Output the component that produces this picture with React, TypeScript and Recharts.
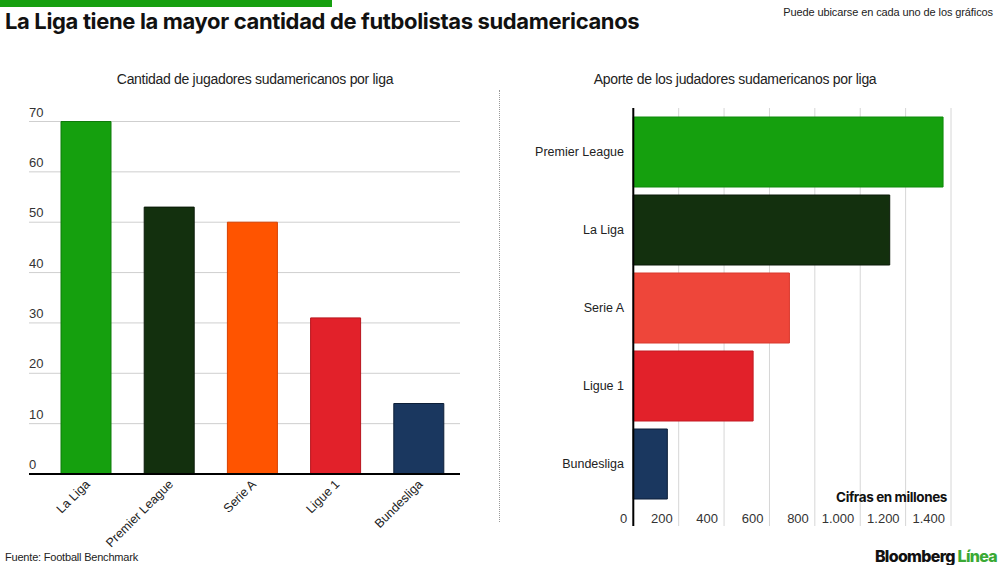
import React from 'react';
import { BarChart, Bar, XAxis, YAxis, CartesianGrid, Cell } from 'recharts';

const leftLeagues = ['La Liga', 'Premier League', 'Serie A', 'Ligue 1', 'Bundesliga'];
const leftPlayers = [70, 53, 50, 31, 14];
const leftColors = ['#15a00e', '#13300e', '#ff5400', '#e2212a', '#1a375f'];
const leftStrokes = ['#0f7a0a', '#0a1a08', '#d84000', '#b8151d', '#0d1f38'];
const leftTicks = [0, 10, 20, 30, 40, 50, 60, 70];

const rightLeagues = ['Premier League', 'La Liga', 'Serie A', 'Ligue 1', 'Bundesliga'];
const rightValues = [1365, 1130, 688, 528, 150];
const rightColors = ['#15a00e', '#13300e', '#ee463a', '#e2212a', '#1a375f'];
const rightStrokes = ['#0f8a0a', '#0a1a08', '#d9392d', '#c41a22', '#0d1f38'];
const rightTicks = [0, 200, 400, 600, 800, 1000, 1200, 1400];
const rightTickLabels = ['0', '200', '400', '600', '800', '1.000', '1.200', '1.400'];

const leftData = leftLeagues.map((name, i) => ({ name, value: leftPlayers[i] }));
const rightData = rightLeagues.map((name, i) => ({ name, value: rightValues[i] }));

const FONT = '"Liberation Sans", Arial, sans-serif';
const TITLE_FONT = 'Inter, "Liberation Sans", sans-serif';

const LeftYTick = (props: any) => {
  const { y, payload } = props;
  return (
    <text x={29} y={y - 5} textAnchor="start" fontSize={13} fill="#333" fontFamily={FONT}>
      {payload.value}
    </text>
  );
};

const LeftXTick = (props: any) => {
  const { x, payload } = props;
  return (
    <text
      transform={`translate(${x + 5},${485}) rotate(-45)`}
      textAnchor="end"
      fontSize={12.5}
      fill="#222"
      fontFamily={FONT}
    >
      {payload.value}
    </text>
  );
};

const RightYTick = (props: any) => {
  const { y, payload } = props;
  return (
    <text x={124} y={y + 4} textAnchor="end" fontSize={12.5} fill="#222" fontFamily={FONT}>
      {payload.value}
    </text>
  );
};

const RightXTick = (props: any) => {
  const { x, payload, index } = props;
  return (
    <text x={x - 6} y={523} textAnchor="end" fontSize={13} fill="#333" fontFamily={FONT}>
      {rightTickLabels[index] ?? payload.value}
    </text>
  );
};

export default function App() {
  return (
    <div
      style={{
        position: 'absolute',
        left: 0,
        top: 0,
        width: 1000,
        height: 565,
        background: '#fff',
        overflow: 'hidden',
        fontFamily: FONT,
      }}
    >
      <div style={{ position: 'absolute', left: 0, top: 0, width: 332, height: 7, background: '#16a010' }} />
      <div
        style={{
          position: 'absolute',
          left: 5,
          top: 8,
          fontFamily: TITLE_FONT,
          fontWeight: 700,
          fontSize: 22,
          letterSpacing: -0.35,
          color: '#111',
          whiteSpace: 'nowrap',
        }}
      >
        La Liga tiene la mayor cantidad de futbolistas sudamericanos
      </div>
      <div
        style={{
          position: 'absolute',
          right: 7,
          top: 6,
          fontSize: 11,
          color: '#222',
          letterSpacing: -0.1,
          whiteSpace: 'nowrap',
          textAlign: 'right',
        }}
      >
        Puede ubicarse en cada uno de los gráficos
      </div>

      <div
        style={{
          position: 'absolute',
          left: 0,
          width: 510,
          top: 71,
          textAlign: 'center',
          fontSize: 14,
          color: '#222',
          letterSpacing: -0.3,
        }}
      >
        Cantidad de jugadores sudamericanos por liga
      </div>
      <div
        style={{
          position: 'absolute',
          left: 490,
          width: 490,
          top: 71,
          textAlign: 'center',
          fontSize: 14,
          color: '#222',
          letterSpacing: -0.3,
        }}
      >
        Aporte de los judadores sudamericanos por liga
      </div>

      <div
        style={{
          position: 'absolute',
          left: 499,
          top: 90,
          height: 432,
          width: 0,
          borderLeft: '1px dotted #999',
        }}
      />

      <div style={{ position: 'absolute', left: 0, top: 0 }}>
        <BarChart
          width={500}
          height={565}
          data={leftData}
          margin={{ top: 121.5, right: 40, bottom: 11, left: 28 }}
          barSize={50}
        >
          <CartesianGrid horizontal vertical={false} stroke="#cfcfcf" strokeWidth={1} />
          <XAxis
            dataKey="name"
            type="category"
            height={80}
            padding={{ left: 15, right: 0 }}
            axisLine={{ stroke: '#000', strokeWidth: 2 }}
            tickLine={false}
            tick={<LeftXTick />}
            interval={0}
          />
          <YAxis
            type="number"
            domain={[0, 70]}
            ticks={leftTicks}
            width={1}
            axisLine={false}
            tickLine={false}
            tick={<LeftYTick />}
            interval={0}
          />
          <Bar dataKey="value" isAnimationActive={false} strokeWidth={1}>
            {leftData.map((d, i) => (
              <Cell key={d.name} fill={leftColors[i]} stroke={leftStrokes[i]} />
            ))}
          </Bar>
        </BarChart>
      </div>

      <div style={{ position: 'absolute', left: 500, top: 0 }}>
        <BarChart
          width={500}
          height={565}
          data={rightData}
          layout="vertical"
          margin={{ top: 108, right: 49, bottom: 38, left: 0 }}
          barSize={70}
        >
          <CartesianGrid horizontal={false} vertical stroke="#d6d6d6" strokeWidth={1} />
          <XAxis
            type="number"
            domain={[0, 1400]}
            ticks={rightTicks}
            height={1}
            axisLine={false}
            tickLine={false}
            tick={<RightXTick />}
            interval={0}
          />
          <YAxis
            type="category"
            dataKey="name"
            width={133.3}
            padding={{ top: 5, bottom: 23 }}
            axisLine={{ stroke: '#000', strokeWidth: 2 }}
            tickLine={false}
            tick={<RightYTick />}
            interval={0}
          />
          <Bar dataKey="value" isAnimationActive={false} strokeWidth={1}>
            {rightData.map((d, i) => (
              <Cell key={d.name} fill={rightColors[i]} stroke={rightStrokes[i]} />
            ))}
          </Bar>
        </BarChart>
      </div>

      <div
        style={{
          position: 'absolute',
          right: 53,
          top: 489,
          fontFamily: TITLE_FONT,
          fontWeight: 700,
          fontSize: 13.5,
          letterSpacing: -0.4,
          color: '#111',
          whiteSpace: 'nowrap',
        }}
      >
        Cifras en millones
      </div>

      <div
        style={{
          position: 'absolute',
          left: 5,
          top: 551,
          fontSize: 11,
          color: '#222',
          letterSpacing: -0.2,
          whiteSpace: 'nowrap',
        }}
      >
        Fuente: Football Benchmark
      </div>
      <div
        style={{
          position: 'absolute',
          right: 3,
          top: 546,
          fontFamily: TITLE_FONT,
          fontWeight: 800,
          fontSize: 16,
          letterSpacing: -0.7,
          whiteSpace: 'nowrap',
        }}
      >
        <span style={{ color: '#111' }}>Bloomberg </span>
        <span style={{ color: '#3aa935' }}>Línea</span>
      </div>
    </div>
  );
}
